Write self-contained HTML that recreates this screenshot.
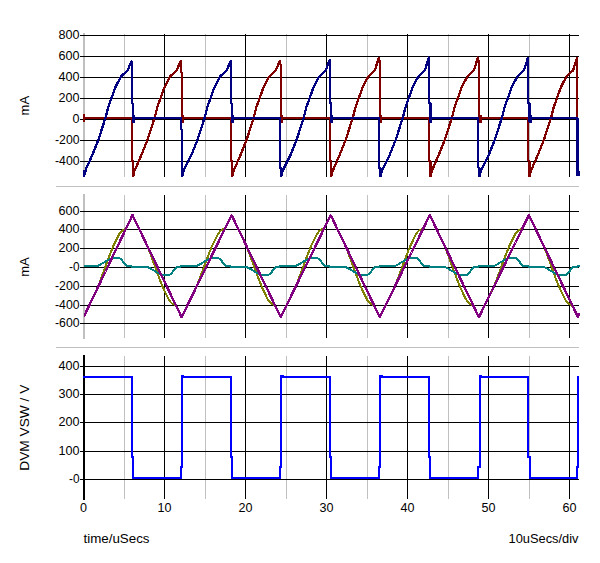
<!DOCTYPE html>
<html><head><meta charset="utf-8"><title>plot</title>
<style>
html,body{margin:0;padding:0;background:#fff;}
svg{display:block;}
text{font-family:"Liberation Sans",Arial,sans-serif;font-size:12px;fill:#000;}
polyline{shape-rendering:crispEdges;}
rect{shape-rendering:crispEdges;}
</style></head><body>
<svg width="600" height="563" viewBox="0 0 600 563">
<rect x="0" y="0" width="600" height="563" fill="#fff"/>
<rect x="56" y="186" width="523" height="1" fill="#c0c0c0"/>
<rect x="56" y="347" width="523" height="1" fill="#c0c0c0"/>
<rect x="83" y="33" width="2" height="144" fill="#c0c0c0"/>
<rect x="124" y="34" width="1" height="143" fill="#c0c0c0"/>
<rect x="164" y="34" width="1" height="143" fill="#000"/>
<rect x="205" y="34" width="1" height="143" fill="#c0c0c0"/>
<rect x="245" y="34" width="1" height="143" fill="#000"/>
<rect x="286" y="34" width="1" height="143" fill="#c0c0c0"/>
<rect x="326" y="34" width="1" height="143" fill="#000"/>
<rect x="367" y="34" width="1" height="143" fill="#c0c0c0"/>
<rect x="407" y="34" width="1" height="143" fill="#000"/>
<rect x="448" y="34" width="1" height="143" fill="#c0c0c0"/>
<rect x="488" y="34" width="1" height="143" fill="#000"/>
<rect x="529" y="34" width="1" height="143" fill="#c0c0c0"/>
<rect x="569" y="34" width="1" height="143" fill="#000"/>
<rect x="80" y="35" width="498.5" height="1" fill="#000"/>
<rect x="80" y="56" width="498.5" height="1" fill="#000"/>
<rect x="80" y="77" width="498.5" height="1" fill="#000"/>
<rect x="80" y="98" width="498.5" height="1" fill="#000"/>
<rect x="80" y="119" width="498.5" height="1" fill="#000"/>
<rect x="80" y="140" width="498.5" height="1" fill="#000"/>
<rect x="80" y="161" width="498.5" height="1" fill="#000"/>
<polyline points="84.0,118.0 131.8,118.0 131.8,161.0 133.1,161.0 133.1,176.5 134.4,171.0 135.6,168.4 141.5,154.8 147.7,139.2 153.0,122.7 154.8,117.1 157.3,107.2 161.1,96.6 164.2,87.9 167.3,81.7 170.4,76.1 176.6,70.5 180.9,60.6 180.9,72.6 182.2,72.6 182.2,122.0 182.2,118.0 230.9,118.0 230.9,161.0 232.2,161.0 232.2,176.5 233.5,171.0 234.7,168.4 240.6,154.8 246.8,139.2 252.1,122.7 253.9,117.1 256.4,107.2 260.2,96.6 263.3,87.9 266.4,81.7 269.5,76.1 275.7,70.5 280.0,60.5 280.0,64.5 281.0,64.5 281.0,122.0 281.0,118.0 330.0,118.0 330.0,161.0 331.3,161.0 331.3,176.5 332.6,171.0 333.8,168.4 339.7,154.8 345.9,139.2 351.2,122.7 353.0,117.1 355.5,107.2 359.3,96.6 362.4,87.9 365.5,81.7 368.6,76.1 374.8,70.5 379.1,57.0 379.1,61.0 380.1,61.0 380.1,122.0 380.1,118.0 429.1,118.0 429.1,161.0 430.4,161.0 430.4,176.5 431.7,171.0 432.9,168.4 438.8,154.8 445.0,139.2 450.3,122.7 452.1,117.1 454.6,107.2 458.4,96.6 461.5,87.9 464.6,81.7 467.7,76.1 473.9,70.5 478.2,56.7 478.2,60.7 479.2,60.7 479.2,122.0 479.2,118.0 528.2,118.0 528.2,161.0 529.5,161.0 529.5,176.5 530.8,171.0 532.0,168.4 537.9,154.8 544.1,139.2 549.4,122.7 551.2,117.1 553.7,107.2 557.5,96.6 560.6,87.9 563.7,81.7 566.8,76.1 573.0,70.5 577.3,57.0 577.3,61.0 577.3,118.0" fill="none" stroke="#800000" stroke-width="2.3" stroke-linejoin="bevel"/>
<rect x="181.2" y="114.5" width="3" height="8" fill="#800000"/>
<rect x="280.3" y="114.5" width="3" height="8" fill="#800000"/>
<rect x="379.4" y="114.5" width="3" height="8" fill="#800000"/>
<rect x="478.5" y="114.5" width="3" height="8" fill="#800000"/>
<polyline points="84.0,170.0 84.0,176.5 86.2,168.4 92.4,154.8 98.6,139.2 103.9,122.7 105.7,117.1 108.2,107.2 112.0,96.6 115.1,87.9 118.2,81.7 121.3,76.1 127.5,70.5 131.8,60.6 131.8,103.4 133.1,103.4 133.1,122.0 133.1,118.0 180.9,118.0 180.9,129.4 182.2,129.4 182.2,176.5 183.5,171.0 184.7,168.4 191.5,154.8 197.7,139.2 203.0,122.7 204.8,117.1 207.3,107.2 211.1,96.6 214.2,87.9 217.3,81.7 220.4,76.1 226.6,70.5 230.9,60.3 230.9,103.4 232.2,103.4 232.2,122.0 232.2,118.0 280.0,118.0 280.0,168.0 281.3,168.0 281.3,176.5 282.6,171.0 283.8,168.4 290.6,154.8 296.8,139.2 302.1,122.7 303.9,117.1 306.4,107.2 310.2,96.6 313.3,87.9 316.4,81.7 319.5,76.1 325.7,70.5 330.0,59.2 330.0,103.4 331.3,103.4 331.3,122.0 331.3,118.0 379.1,118.0 379.1,168.0 380.4,168.0 380.4,176.5 381.7,171.0 382.9,168.4 389.7,154.8 395.9,139.2 401.2,122.7 403.0,117.1 405.5,107.2 409.3,96.6 412.4,87.9 415.5,81.7 418.6,76.1 424.8,70.5 429.1,56.7 429.1,103.4 430.4,103.4 430.4,122.0 430.4,118.0 478.2,118.0 478.2,168.0 479.5,168.0 479.5,176.5 480.8,171.0 482.0,168.4 488.8,154.8 495.0,139.2 500.3,122.7 502.1,117.1 504.6,107.2 508.4,96.6 511.5,87.9 514.6,81.7 517.7,76.1 523.9,70.5 528.2,56.9 528.2,103.4 529.5,103.4 529.5,122.0 529.5,118.0 577.4,118.0 577.6,118.0 577.6,175.6" fill="none" stroke="#000080" stroke-width="2.3" stroke-linejoin="bevel"/>
<rect x="579" y="171" width="1" height="5" fill="#000080"/>
<rect x="132.1" y="114.5" width="3" height="8" fill="#000080"/>
<rect x="231.2" y="114.5" width="3" height="8" fill="#000080"/>
<rect x="330.3" y="114.5" width="3" height="8" fill="#000080"/>
<rect x="429.4" y="114.5" width="3" height="8" fill="#000080"/>
<rect x="528.5" y="114.5" width="3" height="8" fill="#000080"/>
<rect x="83" y="114" width="2" height="8" fill="#800000"/>
<rect x="83" y="194" width="2" height="145" fill="#c0c0c0"/>
<rect x="124" y="195" width="1" height="143" fill="#c0c0c0"/>
<rect x="164" y="195" width="1" height="143" fill="#000"/>
<rect x="205" y="195" width="1" height="143" fill="#c0c0c0"/>
<rect x="245" y="195" width="1" height="143" fill="#000"/>
<rect x="286" y="195" width="1" height="143" fill="#c0c0c0"/>
<rect x="326" y="195" width="1" height="143" fill="#000"/>
<rect x="367" y="195" width="1" height="143" fill="#c0c0c0"/>
<rect x="407" y="195" width="1" height="143" fill="#000"/>
<rect x="448" y="195" width="1" height="143" fill="#c0c0c0"/>
<rect x="488" y="195" width="1" height="143" fill="#000"/>
<rect x="529" y="195" width="1" height="143" fill="#c0c0c0"/>
<rect x="569" y="195" width="1" height="143" fill="#000"/>
<rect x="80" y="211" width="498.5" height="1" fill="#000"/>
<rect x="80" y="229" width="498.5" height="1" fill="#000"/>
<rect x="80" y="248" width="498.5" height="1" fill="#000"/>
<rect x="80" y="267" width="498.5" height="1" fill="#000"/>
<rect x="80" y="286" width="498.5" height="1" fill="#000"/>
<rect x="80" y="305" width="498.5" height="1" fill="#000"/>
<rect x="80" y="323" width="498.5" height="1" fill="#000"/>
<polyline points="84.0,315.5 84.5,315.3 85.0,314.2 85.5,313.2 86.0,312.2 86.5,311.1 87.0,310.1 87.5,309.0 88.0,308.0 88.5,306.9 89.0,305.9 89.5,304.9 90.0,303.8 90.5,302.8 91.0,301.7 91.5,300.7 92.0,299.6 92.5,298.6 93.0,297.5 93.5,296.5 94.0,295.5 94.5,294.4 95.0,293.4 95.5,292.3 96.0,291.3 96.5,290.2 97.0,289.1 97.5,287.9 98.0,286.7 98.5,285.5 99.0,284.2 99.5,282.9 100.0,281.6 100.5,280.2 101.0,278.9 101.5,277.5 102.0,276.1 102.5,274.7 103.0,273.4 103.5,272.0 104.0,270.6 104.5,269.2 105.0,267.9 105.5,266.5 106.0,265.1 106.5,263.7 107.0,262.4 107.5,261.0 108.0,259.6 108.5,258.3 109.0,257.0 109.5,255.6 110.0,254.3 110.5,253.0 111.0,251.7 111.5,250.5 112.0,249.2 112.5,248.0 113.0,246.8 113.5,245.7 114.0,244.6 114.5,243.5 115.0,242.5 115.5,241.5 116.0,240.4 116.5,239.4 117.0,238.3 117.5,237.3 118.0,236.3 118.5,235.3 119.0,234.5 119.5,233.7 120.0,233.0 120.5,232.3 121.0,231.7 121.5,231.2 122.0,230.8 122.5,230.4 123.0,230.1 123.5,229.9 124.0,229.6 124.5,229.4 125.0,229.0 125.5,228.5 126.0,227.9 126.5,227.2 127.0,226.4 127.5,225.5 128.0,224.5 128.5,223.4 129.0,222.4 129.5,221.4 130.0,220.3 130.5,219.3 131.0,218.2 131.5,217.2 132.0,216.1 132.5,215.1 133.0,216.1 133.5,217.2 134.0,218.2 134.5,219.3 135.0,220.3 135.5,221.3 136.0,222.4 136.5,223.4 137.0,224.5 137.5,225.5 138.0,226.5 138.5,227.6 139.0,228.6 139.5,229.7 140.0,230.7 140.5,231.7 141.0,232.8 141.5,233.8 142.0,234.9 142.5,235.9 143.0,236.9 143.5,238.0 144.0,239.0 144.5,240.1 145.0,241.1 145.5,242.1 146.0,243.2 146.5,244.3 147.0,245.4 147.5,246.5 148.0,247.7 148.5,249.0 149.0,250.2 149.5,251.5 150.0,252.9 150.5,254.2 151.0,255.6 151.5,256.9 152.0,258.3 152.5,259.7 153.0,261.0 153.5,262.4 154.0,263.8 154.5,265.2 155.0,266.5 155.5,267.9 156.0,269.3 156.5,270.6 157.0,272.0 157.5,273.4 158.0,274.7 158.5,276.1 159.0,277.4 159.5,278.7 160.0,280.0 160.5,281.3 161.0,282.6 161.5,283.9 162.0,285.1 162.5,286.3 163.0,287.5 163.5,288.6 164.0,289.7 164.5,290.8 165.0,291.8 165.5,292.9 166.0,293.9 166.5,294.9 167.0,296.0 167.5,297.0 168.0,298.0 168.5,298.9 169.0,299.8 169.5,300.6 170.0,301.3 170.5,302.0 171.0,302.5 171.5,303.0 172.0,303.5 172.5,303.8 173.0,304.1 173.5,304.4 174.0,304.6 174.5,304.9 175.0,305.2 175.5,305.7 176.0,306.3 176.5,307.0 177.0,307.8 177.5,308.8 178.0,309.7 178.5,310.8 179.0,311.8 179.5,312.8 180.0,313.9 180.5,314.9 181.0,316.0 181.5,317.0 182.0,316.4 182.5,315.4 183.0,314.3 183.5,313.3 184.0,312.3 184.5,311.3 185.0,310.3 185.5,309.2 186.0,308.2 186.5,307.2 187.0,306.2 187.5,305.2 188.0,304.1 188.5,303.1 189.0,302.1 189.5,301.1 190.0,300.0 190.5,299.0 191.0,298.0 191.5,297.0 192.0,296.0 192.5,294.9 193.0,293.9 193.5,292.9 194.0,291.9 194.5,290.9 195.0,289.8 195.5,288.8 196.0,287.7 196.5,286.6 197.0,285.4 197.5,284.2 198.0,282.9 198.5,281.6 199.0,280.3 199.5,279.0 200.0,277.7 200.5,276.4 201.0,275.0 201.5,273.7 202.0,272.3 202.5,270.9 203.0,269.6 203.5,268.2 204.0,266.9 204.5,265.5 205.0,264.2 205.5,262.8 206.0,261.5 206.5,260.1 207.0,258.8 207.5,257.5 208.0,256.2 208.5,254.9 209.0,253.6 209.5,252.3 210.0,251.0 210.5,249.8 211.0,248.5 211.5,247.3 212.0,246.2 212.5,245.1 213.0,244.0 213.5,242.9 214.0,241.9 214.5,240.9 215.0,239.9 215.5,238.8 216.0,237.8 216.5,236.8 217.0,235.8 217.5,234.9 218.0,234.0 218.5,233.2 219.0,232.5 219.5,231.9 220.0,231.3 220.5,230.8 221.0,230.4 221.5,230.0 222.0,229.7 222.5,229.5 223.0,229.3 223.5,229.0 224.0,228.7 224.5,228.3 225.0,227.8 225.5,227.1 226.0,226.3 226.5,225.4 227.0,224.5 227.5,223.5 228.0,222.5 228.5,221.4 229.0,220.4 229.5,219.4 230.0,218.4 230.5,217.3 231.0,216.3 231.5,215.3 232.0,215.9 232.5,217.0 233.0,218.0 233.5,219.1 234.0,220.1 234.5,221.1 235.0,222.2 235.5,223.2 236.0,224.2 236.5,225.3 237.0,226.3 237.5,227.4 238.0,228.4 238.5,229.4 239.0,230.5 239.5,231.5 240.0,232.6 240.5,233.6 241.0,234.6 241.5,235.7 242.0,236.7 242.5,237.8 243.0,238.8 243.5,239.8 244.0,240.9 244.5,241.9 245.0,243.0 245.5,244.0 246.0,245.2 246.5,246.3 247.0,247.5 247.5,248.7 248.0,250.0 248.5,251.3 249.0,252.6 249.5,253.9 250.0,255.3 250.5,256.7 251.0,258.0 251.5,259.4 252.0,260.8 252.5,262.1 253.0,263.5 253.5,264.9 254.0,266.3 254.5,267.6 255.0,269.0 255.5,270.4 256.0,271.7 256.5,273.1 257.0,274.4 257.5,275.8 258.0,277.1 258.5,278.5 259.0,279.8 259.5,281.1 260.0,282.4 260.5,283.6 261.0,284.9 261.5,286.1 262.0,287.3 262.5,288.4 263.0,289.5 263.5,290.6 264.0,291.6 264.5,292.6 265.0,293.7 265.5,294.7 266.0,295.8 266.5,296.8 267.0,297.8 267.5,298.8 268.0,299.6 268.5,300.4 269.0,301.2 269.5,301.8 270.0,302.4 270.5,302.9 271.0,303.4 271.5,303.8 272.0,304.1 272.5,304.3 273.0,304.6 273.5,304.8 274.0,305.2 274.5,305.6 275.0,306.2 275.5,306.8 276.0,307.7 276.5,308.6 277.0,309.5 277.5,310.5 278.0,311.6 278.5,312.6 279.0,313.7 279.5,314.7 280.0,315.7 280.5,316.8 281.0,316.6 281.5,315.6 282.0,314.5 282.5,313.5 283.0,312.5 283.5,311.5 284.0,310.5 284.5,309.4 285.0,308.4 285.5,307.4 286.0,306.4 286.5,305.4 287.0,304.3 287.5,303.3 288.0,302.3 288.5,301.3 289.0,300.3 289.5,299.2 290.0,298.2 290.5,297.2 291.0,296.2 291.5,295.1 292.0,294.1 292.5,293.1 293.0,292.1 293.5,291.1 294.0,290.0 294.5,289.0 295.0,287.9 295.5,286.8 296.0,285.6 296.5,284.4 297.0,283.2 297.5,281.9 298.0,280.6 298.5,279.3 299.0,278.0 299.5,276.6 300.0,275.3 300.5,273.9 301.0,272.6 301.5,271.2 302.0,269.9 302.5,268.5 303.0,267.2 303.5,265.8 304.0,264.5 304.5,263.1 305.0,261.8 305.5,260.4 306.0,259.1 306.5,257.7 307.0,256.4 307.5,255.1 308.0,253.8 308.5,252.5 309.0,251.3 309.5,250.0 310.0,248.8 310.5,247.6 311.0,246.4 311.5,245.3 312.0,244.2 312.5,243.1 313.0,242.1 313.5,241.1 314.0,240.1 314.5,239.1 315.0,238.0 315.5,237.0 316.0,236.0 316.5,235.1 317.0,234.2 317.5,233.4 318.0,232.7 318.5,232.0 319.0,231.4 319.5,230.9 320.0,230.5 320.5,230.1 321.0,229.8 321.5,229.6 322.0,229.3 322.5,229.1 323.0,228.8 323.5,228.4 324.0,227.9 324.5,227.2 325.0,226.5 325.5,225.6 326.0,224.7 326.5,223.7 327.0,222.7 327.5,221.6 328.0,220.6 328.5,219.6 329.0,218.6 329.5,217.6 330.0,216.5 330.5,215.5 331.0,215.7 331.5,216.8 332.0,217.8 332.5,218.8 333.0,219.9 333.5,220.9 334.0,222.0 334.5,223.0 335.0,224.0 335.5,225.1 336.0,226.1 336.5,227.2 337.0,228.2 337.5,229.2 338.0,230.3 338.5,231.3 339.0,232.4 339.5,233.4 340.0,234.4 340.5,235.5 341.0,236.5 341.5,237.6 342.0,238.6 342.5,239.6 343.0,240.7 343.5,241.7 344.0,242.8 344.5,243.8 345.0,244.9 345.5,246.1 346.0,247.2 346.5,248.5 347.0,249.7 347.5,251.0 348.0,252.3 348.5,253.7 349.0,255.0 349.5,256.4 350.0,257.7 350.5,259.1 351.0,260.5 351.5,261.9 352.0,263.2 352.5,264.6 353.0,266.0 353.5,267.3 354.0,268.7 354.5,270.1 355.0,271.5 355.5,272.8 356.0,274.2 356.5,275.5 357.0,276.9 357.5,278.2 358.0,279.5 358.5,280.8 359.0,282.1 359.5,283.4 360.0,284.6 360.5,285.8 361.0,287.0 361.5,288.2 362.0,289.3 362.5,290.4 363.0,291.4 363.5,292.4 364.0,293.5 364.5,294.5 365.0,295.6 365.5,296.6 366.0,297.6 366.5,298.6 367.0,299.5 367.5,300.3 368.0,301.0 368.5,301.7 369.0,302.3 369.5,302.8 370.0,303.3 370.5,303.7 371.0,304.0 371.5,304.3 372.0,304.5 372.5,304.8 373.0,305.1 373.5,305.5 374.0,306.0 374.5,306.7 375.0,307.5 375.5,308.4 376.0,309.3 376.5,310.3 377.0,311.4 377.5,312.4 378.0,313.5 378.5,314.5 379.0,315.5 379.5,316.6 380.0,316.8 380.5,315.8 381.0,314.7 381.5,313.7 382.0,312.7 382.5,311.7 383.0,310.7 383.5,309.6 384.0,308.6 384.5,307.6 385.0,306.6 385.5,305.6 386.0,304.5 386.5,303.5 387.0,302.5 387.5,301.5 388.0,300.5 388.5,299.4 389.0,298.4 389.5,297.4 390.0,296.4 390.5,295.4 391.0,294.3 391.5,293.3 392.0,292.3 392.5,291.3 393.0,290.2 393.5,289.2 394.0,288.1 394.5,287.0 395.0,285.9 395.5,284.7 396.0,283.4 396.5,282.2 397.0,280.9 397.5,279.6 398.0,278.2 398.5,276.9 399.0,275.5 399.5,274.2 400.0,272.8 400.5,271.5 401.0,270.1 401.5,268.8 402.0,267.4 402.5,266.1 403.0,264.7 403.5,263.4 404.0,262.0 404.5,260.7 405.0,259.3 405.5,258.0 406.0,256.7 406.5,255.4 407.0,254.1 407.5,252.8 408.0,251.5 408.5,250.3 409.0,249.0 409.5,247.8 410.0,246.6 410.5,245.5 411.0,244.4 411.5,243.3 412.0,242.3 412.5,241.3 413.0,240.3 413.5,239.3 414.0,238.2 414.5,237.2 415.0,236.2 415.5,235.2 416.0,234.4 416.5,233.5 417.0,232.8 417.5,232.1 418.0,231.5 418.5,231.0 419.0,230.6 419.5,230.2 420.0,229.9 420.5,229.6 421.0,229.4 421.5,229.1 422.0,228.9 422.5,228.5 423.0,228.0 423.5,227.4 424.0,226.6 424.5,225.8 425.0,224.9 425.5,223.9 426.0,222.9 426.5,221.8 427.0,220.8 427.5,219.8 428.0,218.8 428.5,217.8 429.0,216.7 429.5,215.7 430.0,215.5 430.5,216.6 431.0,217.6 431.5,218.6 432.0,219.7 432.5,220.7 433.0,221.8 433.5,222.8 434.0,223.8 434.5,224.9 435.0,225.9 435.5,227.0 436.0,228.0 436.5,229.0 437.0,230.1 437.5,231.1 438.0,232.2 438.5,233.2 439.0,234.2 439.5,235.3 440.0,236.3 440.5,237.3 441.0,238.4 441.5,239.4 442.0,240.5 442.5,241.5 443.0,242.5 443.5,243.6 444.0,244.7 444.5,245.8 445.0,247.0 445.5,248.2 446.0,249.5 446.5,250.8 447.0,252.1 447.5,253.4 448.0,254.8 448.5,256.1 449.0,257.5 449.5,258.8 450.0,260.2 450.5,261.6 451.0,263.0 451.5,264.3 452.0,265.7 452.5,267.1 453.0,268.4 453.5,269.8 454.0,271.2 454.5,272.5 455.0,273.9 455.5,275.3 456.0,276.6 456.5,277.9 457.0,279.2 457.5,280.5 458.0,281.8 458.5,283.1 459.0,284.4 459.5,285.6 460.0,286.8 460.5,287.9 461.0,289.1 461.5,290.1 462.0,291.2 462.5,292.2 463.0,293.3 463.5,294.3 464.0,295.3 464.5,296.4 465.0,297.4 465.5,298.4 466.0,299.3 466.5,300.1 467.0,300.9 467.5,301.6 468.0,302.2 468.5,302.7 469.0,303.2 469.5,303.6 470.0,303.9 470.5,304.2 471.0,304.5 471.5,304.7 472.0,305.0 472.5,305.4 473.0,305.9 473.5,306.6 474.0,307.3 474.5,308.2 475.0,309.1 475.5,310.1 476.0,311.2 476.5,312.2 477.0,313.2 477.5,314.3 478.0,315.3 478.5,316.4 479.0,317.0 479.5,316.0 480.0,315.0 480.5,313.9 481.0,312.9 481.5,311.9 482.0,310.9 482.5,309.8 483.0,308.8 483.5,307.8 484.0,306.8 484.5,305.8 485.0,304.7 485.5,303.7 486.0,302.7 486.5,301.7 487.0,300.7 487.5,299.6 488.0,298.6 488.5,297.6 489.0,296.6 489.5,295.6 490.0,294.5 490.5,293.5 491.0,292.5 491.5,291.5 492.0,290.4 492.5,289.4 493.0,288.3 493.5,287.2 494.0,286.1 494.5,284.9 495.0,283.7 495.5,282.4 496.0,281.1 496.5,279.8 497.0,278.5 497.5,277.2 498.0,275.8 498.5,274.5 499.0,273.1 499.5,271.8 500.0,270.4 500.5,269.1 501.0,267.7 501.5,266.3 502.0,265.0 502.5,263.6 503.0,262.3 503.5,260.9 504.0,259.6 504.5,258.3 505.0,256.9 505.5,255.6 506.0,254.3 506.5,253.0 507.0,251.8 507.5,250.5 508.0,249.3 508.5,248.0 509.0,246.9 509.5,245.7 510.0,244.6 510.5,243.6 511.0,242.5 511.5,241.5 512.0,240.5 512.5,239.5 513.0,238.4 513.5,237.4 514.0,236.4 514.5,235.4 515.0,234.5 515.5,233.7 516.0,232.9 516.5,232.3 517.0,231.6 517.5,231.1 518.0,230.6 518.5,230.3 519.0,229.9 519.5,229.7 520.0,229.4 520.5,229.2 521.0,228.9 521.5,228.6 522.0,228.1 522.5,227.5 523.0,226.8 523.5,226.0 524.0,225.0 524.5,224.1 525.0,223.1 525.5,222.0 526.0,221.0 526.5,220.0 527.0,219.0 527.5,218.0 528.0,216.9 528.5,215.9 529.0,215.3 529.5,216.3 530.0,217.4 530.5,218.4 531.0,219.5 531.5,220.5 532.0,221.5 532.5,222.6 533.0,223.6 533.5,224.7 534.0,225.7 534.5,226.7 535.0,227.8 535.5,228.8 536.0,229.9 536.5,230.9 537.0,231.9 537.5,233.0 538.0,234.0 538.5,235.1 539.0,236.1 539.5,237.1 540.0,238.2 540.5,239.2 541.0,240.3 541.5,241.3 542.0,242.3 542.5,243.4 543.0,244.5 543.5,245.6 544.0,246.8 544.5,248.0 545.0,249.2 545.5,250.5 546.0,251.8 546.5,253.1 547.0,254.5 547.5,255.8 548.0,257.2 548.5,258.6 549.0,259.9 549.5,261.3 550.0,262.7 550.5,264.1 551.0,265.4 551.5,266.8 552.0,268.2 552.5,269.5 553.0,270.9 553.5,272.3 554.0,273.6 554.5,275.0 555.0,276.3 555.5,277.7 556.0,279.0 556.5,280.3 557.0,281.6 557.5,282.9 558.0,284.1 558.5,285.4 559.0,286.6 559.5,287.7 560.0,288.8 560.5,289.9 561.0,291.0 561.5,292.0 562.0,293.1 562.5,294.1 563.0,295.1 563.5,296.2 564.0,297.2 564.5,298.2 565.0,299.1 565.5,300.0 566.0,300.7 566.5,301.5 567.0,302.1 567.5,302.6 568.0,303.1 568.5,303.5 569.0,303.9 569.5,304.2 570.0,304.4 570.5,304.7 571.0,304.9 571.5,305.3 572.0,305.8 572.5,306.4 573.0,307.2 573.5,308.0 574.0,308.9 574.5,309.9 575.0,311.0 575.5,312.0 576.0,313.0 576.5,314.1 577.0,315.1 577.5,316.2 578.0,317.2 578.5,316.2" fill="none" stroke="#808000" stroke-width="2" stroke-linejoin="bevel"/>
<polyline points="84.0,266.0 84.5,266.0 85.0,266.0 85.5,266.0 86.0,266.0 86.5,266.0 87.0,266.0 87.5,266.0 88.0,266.0 88.5,266.0 89.0,266.0 89.5,266.0 90.0,266.0 90.5,266.0 91.0,266.0 91.5,266.0 92.0,266.0 92.5,266.0 93.0,266.0 93.5,266.0 94.0,266.0 94.5,266.0 95.0,266.0 95.5,266.0 96.0,266.0 96.5,266.0 97.0,265.9 97.5,265.8 98.0,265.6 98.5,265.5 99.0,265.3 99.5,265.0 100.0,264.7 100.5,264.5 101.0,264.2 101.5,263.9 102.0,263.6 102.5,263.3 103.0,263.0 103.5,262.7 104.0,262.4 104.5,262.1 105.0,261.8 105.5,261.5 106.0,261.2 106.5,260.9 107.0,260.6 107.5,260.3 108.0,260.0 108.5,259.7 109.0,259.5 109.5,259.2 110.0,259.0 110.5,258.7 111.0,258.5 111.5,258.3 112.0,258.1 112.5,258.0 113.0,257.9 113.5,257.8 114.0,257.7 114.5,257.7 115.0,257.7 115.5,257.7 116.0,257.7 116.5,257.7 117.0,257.7 117.5,257.7 118.0,257.7 118.5,257.8 119.0,258.0 119.5,258.2 120.0,258.5 120.5,258.9 121.0,259.3 121.5,259.8 122.0,260.4 122.5,261.0 123.0,261.6 123.5,262.4 124.0,263.1 124.5,263.8 125.0,264.4 125.5,264.9 126.0,265.3 126.5,265.6 127.0,265.8 127.5,265.9 128.0,266.0 128.5,266.0 129.0,266.0 129.5,266.0 130.0,266.0 130.5,266.0 131.0,266.0 131.5,266.0 132.0,267.0 132.5,267.0 133.0,267.0 133.5,267.0 134.0,267.0 134.5,267.0 135.0,267.0 135.5,267.0 136.0,267.0 136.5,267.0 137.0,267.0 137.5,267.0 138.0,267.0 138.5,267.0 139.0,267.0 139.5,267.0 140.0,267.0 140.5,267.0 141.0,267.0 141.5,267.0 142.0,267.0 142.5,267.0 143.0,267.0 143.5,267.0 144.0,267.0 144.5,267.0 145.0,267.0 145.5,267.0 146.0,267.0 146.5,267.0 147.0,267.1 147.5,267.2 148.0,267.4 148.5,267.5 149.0,267.7 149.5,268.0 150.0,268.3 150.5,268.5 151.0,268.8 151.5,269.1 152.0,269.4 152.5,269.7 153.0,270.0 153.5,270.3 154.0,270.6 154.5,270.9 155.0,271.2 155.5,271.5 156.0,271.8 156.5,272.1 157.0,272.4 157.5,272.7 158.0,273.0 158.5,273.3 159.0,273.5 159.5,273.8 160.0,274.0 160.5,274.3 161.0,274.5 161.5,274.7 162.0,274.9 162.5,275.0 163.0,275.1 163.5,275.2 164.0,275.3 164.5,275.3 165.0,275.3 165.5,275.3 166.0,275.3 166.5,275.3 167.0,275.3 167.5,275.3 168.0,275.3 168.5,275.2 169.0,275.0 169.5,274.8 170.0,274.5 170.5,274.1 171.0,273.7 171.5,273.2 172.0,272.6 172.5,272.0 173.0,271.4 173.5,270.6 174.0,269.9 174.5,269.2 175.0,268.6 175.5,268.1 176.0,267.7 176.5,267.4 177.0,267.2 177.5,267.1 178.0,267.0 178.5,267.0 179.0,267.0 179.5,267.0 180.0,267.0 180.5,267.0 181.0,266.0 181.5,266.0 182.0,266.0 182.5,266.0 183.0,266.0 183.5,266.0 184.0,266.0 184.5,266.0 185.0,266.0 185.5,266.0 186.0,266.0 186.5,266.0 187.0,266.0 187.5,266.0 188.0,266.0 188.5,266.0 189.0,266.0 189.5,266.0 190.0,266.0 190.5,266.0 191.0,266.0 191.5,266.0 192.0,266.0 192.5,266.0 193.0,266.0 193.5,266.0 194.0,266.0 194.5,266.0 195.0,266.0 195.5,266.0 196.0,265.9 196.5,265.8 197.0,265.7 197.5,265.5 198.0,265.3 198.5,265.1 199.0,264.8 199.5,264.5 200.0,264.2 200.5,264.0 201.0,263.7 201.5,263.4 202.0,263.0 202.5,262.7 203.0,262.4 203.5,262.1 204.0,261.8 204.5,261.5 205.0,261.2 205.5,260.9 206.0,260.6 206.5,260.4 207.0,260.1 207.5,259.8 208.0,259.5 208.5,259.3 209.0,259.0 209.5,258.8 210.0,258.6 210.5,258.3 211.0,258.1 211.5,258.0 212.0,257.9 212.5,257.8 213.0,257.7 213.5,257.7 214.0,257.7 214.5,257.7 215.0,257.7 215.5,257.7 216.0,257.7 216.5,257.7 217.0,257.7 217.5,257.8 218.0,258.0 218.5,258.2 219.0,258.4 219.5,258.8 220.0,259.2 220.5,259.7 221.0,260.2 221.5,260.8 222.0,261.5 222.5,262.2 223.0,262.9 223.5,263.6 224.0,264.3 224.5,264.8 225.0,265.3 225.5,265.6 226.0,265.8 226.5,265.9 227.0,266.0 227.5,266.0 228.0,266.0 228.5,266.0 229.0,266.0 229.5,266.0 230.0,266.0 230.5,266.0 231.0,267.0 231.5,267.0 232.0,267.0 232.5,267.0 233.0,267.0 233.5,267.0 234.0,267.0 234.5,267.0 235.0,267.0 235.5,267.0 236.0,267.0 236.5,267.0 237.0,267.0 237.5,267.0 238.0,267.0 238.5,267.0 239.0,267.0 239.5,267.0 240.0,267.0 240.5,267.0 241.0,267.0 241.5,267.0 242.0,267.0 242.5,267.0 243.0,267.0 243.5,267.0 244.0,267.0 244.5,267.0 245.0,267.0 245.5,267.0 246.0,267.1 246.5,267.2 247.0,267.3 247.5,267.5 248.0,267.7 248.5,267.9 249.0,268.2 249.5,268.5 250.0,268.8 250.5,269.0 251.0,269.3 251.5,269.6 252.0,270.0 252.5,270.3 253.0,270.6 253.5,270.9 254.0,271.2 254.5,271.5 255.0,271.8 255.5,272.1 256.0,272.4 256.5,272.6 257.0,272.9 257.5,273.2 258.0,273.5 258.5,273.7 259.0,274.0 259.5,274.2 260.0,274.4 260.5,274.7 261.0,274.9 261.5,275.0 262.0,275.1 262.5,275.2 263.0,275.3 263.5,275.3 264.0,275.3 264.5,275.3 265.0,275.3 265.5,275.3 266.0,275.3 266.5,275.3 267.0,275.3 267.5,275.2 268.0,275.0 268.5,274.8 269.0,274.6 269.5,274.2 270.0,273.8 270.5,273.3 271.0,272.8 271.5,272.2 272.0,271.5 272.5,270.8 273.0,270.1 273.5,269.4 274.0,268.7 274.5,268.2 275.0,267.7 275.5,267.4 276.0,267.2 276.5,267.1 277.0,267.0 277.5,267.0 278.0,267.0 278.5,267.0 279.0,267.0 279.5,267.0 280.0,266.0 280.5,266.0 281.0,266.0 281.5,266.0 282.0,266.0 282.5,266.0 283.0,266.0 283.5,266.0 284.0,266.0 284.5,266.0 285.0,266.0 285.5,266.0 286.0,266.0 286.5,266.0 287.0,266.0 287.5,266.0 288.0,266.0 288.5,266.0 289.0,266.0 289.5,266.0 290.0,266.0 290.5,266.0 291.0,266.0 291.5,266.0 292.0,266.0 292.5,266.0 293.0,266.0 293.5,266.0 294.0,266.0 294.5,266.0 295.0,265.9 295.5,265.8 296.0,265.7 296.5,265.5 297.0,265.3 297.5,265.1 298.0,264.8 298.5,264.6 299.0,264.3 299.5,264.0 300.0,263.7 300.5,263.4 301.0,263.1 301.5,262.8 302.0,262.5 302.5,262.2 303.0,261.9 303.5,261.6 304.0,261.3 304.5,261.0 305.0,260.7 305.5,260.4 306.0,260.1 306.5,259.8 307.0,259.6 307.5,259.3 308.0,259.1 308.5,258.8 309.0,258.6 309.5,258.4 310.0,258.2 310.5,258.0 311.0,257.9 311.5,257.8 312.0,257.7 312.5,257.7 313.0,257.7 313.5,257.7 314.0,257.7 314.5,257.7 315.0,257.7 315.5,257.7 316.0,257.7 316.5,257.8 317.0,257.9 317.5,258.1 318.0,258.4 318.5,258.7 319.0,259.1 319.5,259.6 320.0,260.1 320.5,260.7 321.0,261.4 321.5,262.1 322.0,262.8 322.5,263.5 323.0,264.2 323.5,264.7 324.0,265.2 324.5,265.5 325.0,265.7 325.5,265.9 326.0,266.0 326.5,266.0 327.0,266.0 327.5,266.0 328.0,266.0 328.5,266.0 329.0,266.0 329.5,266.0 330.0,267.0 330.5,267.0 331.0,267.0 331.5,267.0 332.0,267.0 332.5,267.0 333.0,267.0 333.5,267.0 334.0,267.0 334.5,267.0 335.0,267.0 335.5,267.0 336.0,267.0 336.5,267.0 337.0,267.0 337.5,267.0 338.0,267.0 338.5,267.0 339.0,267.0 339.5,267.0 340.0,267.0 340.5,267.0 341.0,267.0 341.5,267.0 342.0,267.0 342.5,267.0 343.0,267.0 343.5,267.0 344.0,267.0 344.5,267.0 345.0,267.1 345.5,267.2 346.0,267.3 346.5,267.5 347.0,267.7 347.5,267.9 348.0,268.2 348.5,268.4 349.0,268.7 349.5,269.0 350.0,269.3 350.5,269.6 351.0,269.9 351.5,270.2 352.0,270.5 352.5,270.8 353.0,271.1 353.5,271.4 354.0,271.7 354.5,272.0 355.0,272.3 355.5,272.6 356.0,272.9 356.5,273.2 357.0,273.4 357.5,273.7 358.0,273.9 358.5,274.2 359.0,274.4 359.5,274.6 360.0,274.8 360.5,275.0 361.0,275.1 361.5,275.2 362.0,275.3 362.5,275.3 363.0,275.3 363.5,275.3 364.0,275.3 364.5,275.3 365.0,275.3 365.5,275.3 366.0,275.3 366.5,275.2 367.0,275.1 367.5,274.9 368.0,274.6 368.5,274.3 369.0,273.9 369.5,273.4 370.0,272.9 370.5,272.3 371.0,271.6 371.5,270.9 372.0,270.2 372.5,269.5 373.0,268.8 373.5,268.3 374.0,267.8 374.5,267.5 375.0,267.3 375.5,267.1 376.0,267.0 376.5,267.0 377.0,267.0 377.5,267.0 378.0,267.0 378.5,267.0 379.0,267.0 379.5,266.0 380.0,266.0 380.5,266.0 381.0,266.0 381.5,266.0 382.0,266.0 382.5,266.0 383.0,266.0 383.5,266.0 384.0,266.0 384.5,266.0 385.0,266.0 385.5,266.0 386.0,266.0 386.5,266.0 387.0,266.0 387.5,266.0 388.0,266.0 388.5,266.0 389.0,266.0 389.5,266.0 390.0,266.0 390.5,266.0 391.0,266.0 391.5,266.0 392.0,266.0 392.5,266.0 393.0,266.0 393.5,266.0 394.0,265.9 394.5,265.8 395.0,265.7 395.5,265.6 396.0,265.4 396.5,265.2 397.0,264.9 397.5,264.6 398.0,264.4 398.5,264.1 399.0,263.8 399.5,263.5 400.0,263.2 400.5,262.9 401.0,262.6 401.5,262.3 402.0,262.0 402.5,261.7 403.0,261.4 403.5,261.1 404.0,260.8 404.5,260.5 405.0,260.2 405.5,259.9 406.0,259.6 406.5,259.4 407.0,259.1 407.5,258.9 408.0,258.6 408.5,258.4 409.0,258.2 409.5,258.1 410.0,257.9 410.5,257.8 411.0,257.7 411.5,257.7 412.0,257.7 412.5,257.7 413.0,257.7 413.5,257.7 414.0,257.7 414.5,257.7 415.0,257.7 415.5,257.8 416.0,257.9 416.5,258.1 417.0,258.3 417.5,258.6 418.0,259.0 418.5,259.5 419.0,260.0 419.5,260.6 420.0,261.2 420.5,261.9 421.0,262.6 421.5,263.4 422.0,264.0 422.5,264.6 423.0,265.1 423.5,265.5 424.0,265.7 424.5,265.9 425.0,266.0 425.5,266.0 426.0,266.0 426.5,266.0 427.0,266.0 427.5,266.0 428.0,266.0 428.5,266.0 429.0,266.0 429.5,267.0 430.0,267.0 430.5,267.0 431.0,267.0 431.5,267.0 432.0,267.0 432.5,267.0 433.0,267.0 433.5,267.0 434.0,267.0 434.5,267.0 435.0,267.0 435.5,267.0 436.0,267.0 436.5,267.0 437.0,267.0 437.5,267.0 438.0,267.0 438.5,267.0 439.0,267.0 439.5,267.0 440.0,267.0 440.5,267.0 441.0,267.0 441.5,267.0 442.0,267.0 442.5,267.0 443.0,267.0 443.5,267.0 444.0,267.1 444.5,267.2 445.0,267.3 445.5,267.4 446.0,267.6 446.5,267.8 447.0,268.1 447.5,268.4 448.0,268.6 448.5,268.9 449.0,269.2 449.5,269.5 450.0,269.8 450.5,270.1 451.0,270.4 451.5,270.7 452.0,271.0 452.5,271.3 453.0,271.6 453.5,271.9 454.0,272.2 454.5,272.5 455.0,272.8 455.5,273.1 456.0,273.4 456.5,273.6 457.0,273.9 457.5,274.1 458.0,274.4 458.5,274.6 459.0,274.8 459.5,274.9 460.0,275.1 460.5,275.2 461.0,275.3 461.5,275.3 462.0,275.3 462.5,275.3 463.0,275.3 463.5,275.3 464.0,275.3 464.5,275.3 465.0,275.3 465.5,275.2 466.0,275.1 466.5,274.9 467.0,274.7 467.5,274.4 468.0,274.0 468.5,273.5 469.0,273.0 469.5,272.4 470.0,271.8 470.5,271.1 471.0,270.4 471.5,269.6 472.0,269.0 472.5,268.4 473.0,267.9 473.5,267.5 474.0,267.3 474.5,267.1 475.0,267.0 475.5,267.0 476.0,267.0 476.5,267.0 477.0,267.0 477.5,267.0 478.0,267.0 478.5,266.0 479.0,266.0 479.5,266.0 480.0,266.0 480.5,266.0 481.0,266.0 481.5,266.0 482.0,266.0 482.5,266.0 483.0,266.0 483.5,266.0 484.0,266.0 484.5,266.0 485.0,266.0 485.5,266.0 486.0,266.0 486.5,266.0 487.0,266.0 487.5,266.0 488.0,266.0 488.5,266.0 489.0,266.0 489.5,266.0 490.0,266.0 490.5,266.0 491.0,266.0 491.5,266.0 492.0,266.0 492.5,266.0 493.0,265.9 493.5,265.9 494.0,265.7 494.5,265.6 495.0,265.4 495.5,265.2 496.0,264.9 496.5,264.7 497.0,264.4 497.5,264.1 498.0,263.8 498.5,263.5 499.0,263.2 499.5,262.9 500.0,262.6 500.5,262.3 501.0,262.0 501.5,261.7 502.0,261.4 502.5,261.1 503.0,260.8 503.5,260.5 504.0,260.2 504.5,259.9 505.0,259.7 505.5,259.4 506.0,259.2 506.5,258.9 507.0,258.7 507.5,258.5 508.0,258.3 508.5,258.1 509.0,257.9 509.5,257.8 510.0,257.8 510.5,257.7 511.0,257.7 511.5,257.7 512.0,257.7 512.5,257.7 513.0,257.7 513.5,257.7 514.0,257.7 514.5,257.8 515.0,257.9 515.5,258.0 516.0,258.3 516.5,258.6 517.0,258.9 517.5,259.4 518.0,259.9 518.5,260.5 519.0,261.1 519.5,261.8 520.0,262.5 520.5,263.2 521.0,263.9 521.5,264.5 522.0,265.0 522.5,265.4 523.0,265.7 523.5,265.8 524.0,265.9 524.5,266.0 525.0,266.0 525.5,266.0 526.0,266.0 526.5,266.0 527.0,266.0 527.5,266.0 528.0,266.0 528.5,267.0 529.0,267.0 529.5,267.0 530.0,267.0 530.5,267.0 531.0,267.0 531.5,267.0 532.0,267.0 532.5,267.0 533.0,267.0 533.5,267.0 534.0,267.0 534.5,267.0 535.0,267.0 535.5,267.0 536.0,267.0 536.5,267.0 537.0,267.0 537.5,267.0 538.0,267.0 538.5,267.0 539.0,267.0 539.5,267.0 540.0,267.0 540.5,267.0 541.0,267.0 541.5,267.0 542.0,267.0 542.5,267.0 543.0,267.1 543.5,267.1 544.0,267.3 544.5,267.4 545.0,267.6 545.5,267.8 546.0,268.1 546.5,268.3 547.0,268.6 547.5,268.9 548.0,269.2 548.5,269.5 549.0,269.8 549.5,270.1 550.0,270.4 550.5,270.7 551.0,271.0 551.5,271.3 552.0,271.6 552.5,271.9 553.0,272.2 553.5,272.5 554.0,272.8 554.5,273.1 555.0,273.3 555.5,273.6 556.0,273.8 556.5,274.1 557.0,274.3 557.5,274.5 558.0,274.7 558.5,274.9 559.0,275.1 559.5,275.2 560.0,275.2 560.5,275.3 561.0,275.3 561.5,275.3 562.0,275.3 562.5,275.3 563.0,275.3 563.5,275.3 564.0,275.3 564.5,275.2 565.0,275.1 565.5,275.0 566.0,274.7 566.5,274.4 567.0,274.1 567.5,273.6 568.0,273.1 568.5,272.5 569.0,271.9 569.5,271.2 570.0,270.5 570.5,269.8 571.0,269.1 571.5,268.5 572.0,268.0 572.5,267.6 573.0,267.3 573.5,267.2 574.0,267.1 574.5,267.0 575.0,267.0 575.5,267.0 576.0,267.0 576.5,267.0 577.0,267.0 577.5,266.0 578.0,266.0 578.5,266.0 579.0,266.0 579.5,266.0" fill="none" stroke="#008080" stroke-width="2" stroke-linejoin="bevel"/>
<polyline points="84.0,315.5 84.5,315.3 85.0,314.2 85.5,313.2 86.0,312.2 86.5,311.1 87.0,310.1 87.5,309.0 88.0,308.0 88.5,306.9 89.0,305.9 89.5,304.9 90.0,303.8 90.5,302.8 91.0,301.7 91.5,300.7 92.0,299.6 92.5,298.6 93.0,297.5 93.5,296.5 94.0,295.5 94.5,294.4 95.0,293.4 95.5,292.3 96.0,291.3 96.5,290.2 97.0,289.2 97.5,288.2 98.0,287.1 98.5,286.1 99.0,285.0 99.5,284.0 100.0,282.9 100.5,281.9 101.0,280.9 101.5,279.8 102.0,278.8 102.5,277.7 103.0,276.7 103.5,275.6 104.0,274.6 104.5,273.5 105.0,272.5 105.5,271.5 106.0,270.4 106.5,269.4 107.0,268.3 107.5,267.3 108.0,266.2 108.5,265.2 109.0,264.2 109.5,263.1 110.0,262.1 110.5,261.0 111.0,260.0 111.5,258.9 112.0,257.9 112.5,256.8 113.0,255.8 113.5,254.8 114.0,253.7 114.5,252.7 115.0,251.6 115.5,250.6 116.0,249.5 116.5,248.5 117.0,247.5 117.5,246.4 118.0,245.4 118.5,244.3 119.0,243.3 119.5,242.2 120.0,241.2 120.5,240.1 121.0,239.1 121.5,238.1 122.0,237.0 122.5,236.0 123.0,234.9 123.5,233.9 124.0,232.8 124.5,231.8 125.0,230.8 125.5,229.7 126.0,228.7 126.5,227.6 127.0,226.6 127.5,225.5 128.0,224.5 128.5,223.4 129.0,222.4 129.5,221.4 130.0,220.3 130.5,219.3 131.0,218.2 131.5,217.2 132.0,216.1 132.5,215.1 133.0,216.1 133.5,217.2 134.0,218.2 134.5,219.3 135.0,220.3 135.5,221.3 136.0,222.4 136.5,223.4 137.0,224.5 137.5,225.5 138.0,226.5 138.5,227.6 139.0,228.6 139.5,229.7 140.0,230.7 140.5,231.7 141.0,232.8 141.5,233.8 142.0,234.9 142.5,235.9 143.0,236.9 143.5,238.0 144.0,239.0 144.5,240.1 145.0,241.1 145.5,242.1 146.0,243.2 146.5,244.2 147.0,245.3 147.5,246.3 148.0,247.3 148.5,248.4 149.0,249.4 149.5,250.5 150.0,251.5 150.5,252.5 151.0,253.6 151.5,254.6 152.0,255.6 152.5,256.7 153.0,257.7 153.5,258.8 154.0,259.8 154.5,260.8 155.0,261.9 155.5,262.9 156.0,264.0 156.5,265.0 157.0,266.0 157.5,267.1 158.0,268.1 158.5,269.2 159.0,270.2 159.5,271.2 160.0,272.3 160.5,273.3 161.0,274.4 161.5,275.4 162.0,276.4 162.5,277.5 163.0,278.5 163.5,279.6 164.0,280.6 164.5,281.6 165.0,282.7 165.5,283.7 166.0,284.8 166.5,285.8 167.0,286.8 167.5,287.9 168.0,288.9 168.5,290.0 169.0,291.0 169.5,292.0 170.0,293.1 170.5,294.1 171.0,295.2 171.5,296.2 172.0,297.2 172.5,298.3 173.0,299.3 173.5,300.4 174.0,301.4 174.5,302.4 175.0,303.5 175.5,304.5 176.0,305.6 176.5,306.6 177.0,307.6 177.5,308.7 178.0,309.7 178.5,310.8 179.0,311.8 179.5,312.8 180.0,313.9 180.5,314.9 181.0,316.0 181.5,317.0 182.0,316.4 182.5,315.4 183.0,314.3 183.5,313.3 184.0,312.3 184.5,311.3 185.0,310.3 185.5,309.2 186.0,308.2 186.5,307.2 187.0,306.2 187.5,305.2 188.0,304.1 188.5,303.1 189.0,302.1 189.5,301.1 190.0,300.0 190.5,299.0 191.0,298.0 191.5,297.0 192.0,296.0 192.5,294.9 193.0,293.9 193.5,292.9 194.0,291.9 194.5,290.9 195.0,289.8 195.5,288.8 196.0,287.8 196.5,286.8 197.0,285.8 197.5,284.7 198.0,283.7 198.5,282.7 199.0,281.7 199.5,280.6 200.0,279.6 200.5,278.6 201.0,277.6 201.5,276.6 202.0,275.5 202.5,274.5 203.0,273.5 203.5,272.5 204.0,271.5 204.5,270.4 205.0,269.4 205.5,268.4 206.0,267.4 206.5,266.4 207.0,265.3 207.5,264.3 208.0,263.3 208.5,262.3 209.0,261.2 209.5,260.2 210.0,259.2 210.5,258.2 211.0,257.2 211.5,256.1 212.0,255.1 212.5,254.1 213.0,253.1 213.5,252.1 214.0,251.0 214.5,250.0 215.0,249.0 215.5,248.0 216.0,247.0 216.5,245.9 217.0,244.9 217.5,243.9 218.0,242.9 218.5,241.9 219.0,240.8 219.5,239.8 220.0,238.8 220.5,237.8 221.0,236.7 221.5,235.7 222.0,234.7 222.5,233.7 223.0,232.7 223.5,231.6 224.0,230.6 224.5,229.6 225.0,228.6 225.5,227.6 226.0,226.5 226.5,225.5 227.0,224.5 227.5,223.5 228.0,222.5 228.5,221.4 229.0,220.4 229.5,219.4 230.0,218.4 230.5,217.3 231.0,216.3 231.5,215.3 232.0,215.9 232.5,217.0 233.0,218.0 233.5,219.1 234.0,220.1 234.5,221.1 235.0,222.2 235.5,223.2 236.0,224.2 236.5,225.3 237.0,226.3 237.5,227.4 238.0,228.4 238.5,229.4 239.0,230.5 239.5,231.5 240.0,232.6 240.5,233.6 241.0,234.6 241.5,235.7 242.0,236.7 242.5,237.8 243.0,238.8 243.5,239.8 244.0,240.9 244.5,241.9 245.0,243.0 245.5,244.0 246.0,245.0 246.5,246.1 247.0,247.1 247.5,248.2 248.0,249.2 248.5,250.2 249.0,251.3 249.5,252.3 250.0,253.4 250.5,254.4 251.0,255.4 251.5,256.5 252.0,257.5 252.5,258.6 253.0,259.6 253.5,260.6 254.0,261.7 254.5,262.7 255.0,263.8 255.5,264.8 256.0,265.8 256.5,266.9 257.0,267.9 257.5,269.0 258.0,270.0 258.5,271.0 259.0,272.1 259.5,273.1 260.0,274.2 260.5,275.2 261.0,276.2 261.5,277.3 262.0,278.3 262.5,279.4 263.0,280.4 263.5,281.4 264.0,282.5 264.5,283.5 265.0,284.6 265.5,285.6 266.0,286.6 266.5,287.7 267.0,288.7 267.5,289.8 268.0,290.8 268.5,291.8 269.0,292.9 269.5,293.9 270.0,295.0 270.5,296.0 271.0,297.0 271.5,298.1 272.0,299.1 272.5,300.1 273.0,301.2 273.5,302.2 274.0,303.3 274.5,304.3 275.0,305.3 275.5,306.4 276.0,307.4 276.5,308.5 277.0,309.5 277.5,310.5 278.0,311.6 278.5,312.6 279.0,313.7 279.5,314.7 280.0,315.7 280.5,316.8 281.0,316.6 281.5,315.6 282.0,314.5 282.5,313.5 283.0,312.5 283.5,311.5 284.0,310.5 284.5,309.4 285.0,308.4 285.5,307.4 286.0,306.4 286.5,305.4 287.0,304.3 287.5,303.3 288.0,302.3 288.5,301.3 289.0,300.3 289.5,299.2 290.0,298.2 290.5,297.2 291.0,296.2 291.5,295.1 292.0,294.1 292.5,293.1 293.0,292.1 293.5,291.1 294.0,290.0 294.5,289.0 295.0,288.0 295.5,287.0 296.0,286.0 296.5,284.9 297.0,283.9 297.5,282.9 298.0,281.9 298.5,280.9 299.0,279.8 299.5,278.8 300.0,277.8 300.5,276.8 301.0,275.7 301.5,274.7 302.0,273.7 302.5,272.7 303.0,271.7 303.5,270.6 304.0,269.6 304.5,268.6 305.0,267.6 305.5,266.6 306.0,265.5 306.5,264.5 307.0,263.5 307.5,262.5 308.0,261.5 308.5,260.4 309.0,259.4 309.5,258.4 310.0,257.4 310.5,256.3 311.0,255.3 311.5,254.3 312.0,253.3 312.5,252.3 313.0,251.2 313.5,250.2 314.0,249.2 314.5,248.2 315.0,247.2 315.5,246.1 316.0,245.1 316.5,244.1 317.0,243.1 317.5,242.1 318.0,241.0 318.5,240.0 319.0,239.0 319.5,238.0 320.0,236.9 320.5,235.9 321.0,234.9 321.5,233.9 322.0,232.9 322.5,231.8 323.0,230.8 323.5,229.8 324.0,228.8 324.5,227.8 325.0,226.7 325.5,225.7 326.0,224.7 326.5,223.7 327.0,222.7 327.5,221.6 328.0,220.6 328.5,219.6 329.0,218.6 329.5,217.6 330.0,216.5 330.5,215.5 331.0,215.7 331.5,216.8 332.0,217.8 332.5,218.8 333.0,219.9 333.5,220.9 334.0,222.0 334.5,223.0 335.0,224.0 335.5,225.1 336.0,226.1 336.5,227.2 337.0,228.2 337.5,229.2 338.0,230.3 338.5,231.3 339.0,232.4 339.5,233.4 340.0,234.4 340.5,235.5 341.0,236.5 341.5,237.6 342.0,238.6 342.5,239.6 343.0,240.7 343.5,241.7 344.0,242.8 344.5,243.8 345.0,244.8 345.5,245.9 346.0,246.9 346.5,248.0 347.0,249.0 347.5,250.0 348.0,251.1 348.5,252.1 349.0,253.2 349.5,254.2 350.0,255.2 350.5,256.3 351.0,257.3 351.5,258.4 352.0,259.4 352.5,260.4 353.0,261.5 353.5,262.5 354.0,263.6 354.5,264.6 355.0,265.6 355.5,266.7 356.0,267.7 356.5,268.7 357.0,269.8 357.5,270.8 358.0,271.9 358.5,272.9 359.0,273.9 359.5,275.0 360.0,276.0 360.5,277.1 361.0,278.1 361.5,279.1 362.0,280.2 362.5,281.2 363.0,282.3 363.5,283.3 364.0,284.3 364.5,285.4 365.0,286.4 365.5,287.5 366.0,288.5 366.5,289.5 367.0,290.6 367.5,291.6 368.0,292.7 368.5,293.7 369.0,294.7 369.5,295.8 370.0,296.8 370.5,297.9 371.0,298.9 371.5,299.9 372.0,301.0 372.5,302.0 373.0,303.1 373.5,304.1 374.0,305.1 374.5,306.2 375.0,307.2 375.5,308.3 376.0,309.3 376.5,310.3 377.0,311.4 377.5,312.4 378.0,313.5 378.5,314.5 379.0,315.5 379.5,316.6 380.0,316.8 380.5,315.8 381.0,314.7 381.5,313.7 382.0,312.7 382.5,311.7 383.0,310.7 383.5,309.6 384.0,308.6 384.5,307.6 385.0,306.6 385.5,305.6 386.0,304.5 386.5,303.5 387.0,302.5 387.5,301.5 388.0,300.5 388.5,299.4 389.0,298.4 389.5,297.4 390.0,296.4 390.5,295.4 391.0,294.3 391.5,293.3 392.0,292.3 392.5,291.3 393.0,290.2 393.5,289.2 394.0,288.2 394.5,287.2 395.0,286.2 395.5,285.1 396.0,284.1 396.5,283.1 397.0,282.1 397.5,281.1 398.0,280.0 398.5,279.0 399.0,278.0 399.5,277.0 400.0,276.0 400.5,274.9 401.0,273.9 401.5,272.9 402.0,271.9 402.5,270.8 403.0,269.8 403.5,268.8 404.0,267.8 404.5,266.8 405.0,265.7 405.5,264.7 406.0,263.7 406.5,262.7 407.0,261.7 407.5,260.6 408.0,259.6 408.5,258.6 409.0,257.6 409.5,256.6 410.0,255.5 410.5,254.5 411.0,253.5 411.5,252.5 412.0,251.4 412.5,250.4 413.0,249.4 413.5,248.4 414.0,247.4 414.5,246.3 415.0,245.3 415.5,244.3 416.0,243.3 416.5,242.3 417.0,241.2 417.5,240.2 418.0,239.2 418.5,238.2 419.0,237.2 419.5,236.1 420.0,235.1 420.5,234.1 421.0,233.1 421.5,232.0 422.0,231.0 422.5,230.0 423.0,229.0 423.5,228.0 424.0,226.9 424.5,225.9 425.0,224.9 425.5,223.9 426.0,222.9 426.5,221.8 427.0,220.8 427.5,219.8 428.0,218.8 428.5,217.8 429.0,216.7 429.5,215.7 430.0,215.5 430.5,216.6 431.0,217.6 431.5,218.6 432.0,219.7 432.5,220.7 433.0,221.8 433.5,222.8 434.0,223.8 434.5,224.9 435.0,225.9 435.5,227.0 436.0,228.0 436.5,229.0 437.0,230.1 437.5,231.1 438.0,232.2 438.5,233.2 439.0,234.2 439.5,235.3 440.0,236.3 440.5,237.3 441.0,238.4 441.5,239.4 442.0,240.5 442.5,241.5 443.0,242.5 443.5,243.6 444.0,244.6 444.5,245.7 445.0,246.7 445.5,247.7 446.0,248.8 446.5,249.8 447.0,250.9 447.5,251.9 448.0,252.9 448.5,254.0 449.0,255.0 449.5,256.1 450.0,257.1 450.5,258.1 451.0,259.2 451.5,260.2 452.0,261.3 452.5,262.3 453.0,263.3 453.5,264.4 454.0,265.4 454.5,266.5 455.0,267.5 455.5,268.5 456.0,269.6 456.5,270.6 457.0,271.7 457.5,272.7 458.0,273.7 458.5,274.8 459.0,275.8 459.5,276.9 460.0,277.9 460.5,278.9 461.0,280.0 461.5,281.0 462.0,282.1 462.5,283.1 463.0,284.1 463.5,285.2 464.0,286.2 464.5,287.3 465.0,288.3 465.5,289.3 466.0,290.4 466.5,291.4 467.0,292.5 467.5,293.5 468.0,294.5 468.5,295.6 469.0,296.6 469.5,297.7 470.0,298.7 470.5,299.7 471.0,300.8 471.5,301.8 472.0,302.9 472.5,303.9 473.0,304.9 473.5,306.0 474.0,307.0 474.5,308.1 475.0,309.1 475.5,310.1 476.0,311.2 476.5,312.2 477.0,313.2 477.5,314.3 478.0,315.3 478.5,316.4 479.0,317.0 479.5,316.0 480.0,315.0 480.5,313.9 481.0,312.9 481.5,311.9 482.0,310.9 482.5,309.8 483.0,308.8 483.5,307.8 484.0,306.8 484.5,305.8 485.0,304.7 485.5,303.7 486.0,302.7 486.5,301.7 487.0,300.7 487.5,299.6 488.0,298.6 488.5,297.6 489.0,296.6 489.5,295.6 490.0,294.5 490.5,293.5 491.0,292.5 491.5,291.5 492.0,290.4 492.5,289.4 493.0,288.4 493.5,287.4 494.0,286.4 494.5,285.3 495.0,284.3 495.5,283.3 496.0,282.3 496.5,281.3 497.0,280.2 497.5,279.2 498.0,278.2 498.5,277.2 499.0,276.2 499.5,275.1 500.0,274.1 500.5,273.1 501.0,272.1 501.5,271.1 502.0,270.0 502.5,269.0 503.0,268.0 503.5,267.0 504.0,265.9 504.5,264.9 505.0,263.9 505.5,262.9 506.0,261.9 506.5,260.8 507.0,259.8 507.5,258.8 508.0,257.8 508.5,256.8 509.0,255.7 509.5,254.7 510.0,253.7 510.5,252.7 511.0,251.7 511.5,250.6 512.0,249.6 512.5,248.6 513.0,247.6 513.5,246.5 514.0,245.5 514.5,244.5 515.0,243.5 515.5,242.5 516.0,241.4 516.5,240.4 517.0,239.4 517.5,238.4 518.0,237.4 518.5,236.3 519.0,235.3 519.5,234.3 520.0,233.3 520.5,232.3 521.0,231.2 521.5,230.2 522.0,229.2 522.5,228.2 523.0,227.1 523.5,226.1 524.0,225.1 524.5,224.1 525.0,223.1 525.5,222.0 526.0,221.0 526.5,220.0 527.0,219.0 527.5,218.0 528.0,216.9 528.5,215.9 529.0,215.3 529.5,216.3 530.0,217.4 530.5,218.4 531.0,219.5 531.5,220.5 532.0,221.5 532.5,222.6 533.0,223.6 533.5,224.7 534.0,225.7 534.5,226.7 535.0,227.8 535.5,228.8 536.0,229.9 536.5,230.9 537.0,231.9 537.5,233.0 538.0,234.0 538.5,235.1 539.0,236.1 539.5,237.1 540.0,238.2 540.5,239.2 541.0,240.3 541.5,241.3 542.0,242.3 542.5,243.4 543.0,244.4 543.5,245.5 544.0,246.5 544.5,247.5 545.0,248.6 545.5,249.6 546.0,250.7 546.5,251.7 547.0,252.7 547.5,253.8 548.0,254.8 548.5,255.9 549.0,256.9 549.5,257.9 550.0,259.0 550.5,260.0 551.0,261.1 551.5,262.1 552.0,263.1 552.5,264.2 553.0,265.2 553.5,266.3 554.0,267.3 554.5,268.3 555.0,269.4 555.5,270.4 556.0,271.5 556.5,272.5 557.0,273.5 557.5,274.6 558.0,275.6 558.5,276.7 559.0,277.7 559.5,278.7 560.0,279.8 560.5,280.8 561.0,281.8 561.5,282.9 562.0,283.9 562.5,285.0 563.0,286.0 563.5,287.0 564.0,288.1 564.5,289.1 565.0,290.2 565.5,291.2 566.0,292.2 566.5,293.3 567.0,294.3 567.5,295.4 568.0,296.4 568.5,297.4 569.0,298.5 569.5,299.5 570.0,300.6 570.5,301.6 571.0,302.6 571.5,303.7 572.0,304.7 572.5,305.8 573.0,306.8 573.5,307.8 574.0,308.9 574.5,309.9 575.0,311.0 575.5,312.0 576.0,313.0 576.5,314.1 577.0,315.1 577.5,316.2 578.0,317.2 578.5,316.2" fill="none" stroke="#800080" stroke-width="2.4" stroke-linejoin="round"/>
<rect x="577" y="313" width="3" height="3" fill="#800080"/>
<rect x="83" y="355" width="2" height="145" fill="#000"/>
<rect x="124" y="356" width="1" height="143" fill="#c0c0c0"/>
<rect x="164" y="356" width="1" height="143" fill="#000"/>
<rect x="205" y="356" width="1" height="143" fill="#c0c0c0"/>
<rect x="245" y="356" width="1" height="143" fill="#000"/>
<rect x="286" y="356" width="1" height="143" fill="#c0c0c0"/>
<rect x="326" y="356" width="1" height="143" fill="#000"/>
<rect x="367" y="356" width="1" height="143" fill="#c0c0c0"/>
<rect x="407" y="356" width="1" height="143" fill="#000"/>
<rect x="448" y="356" width="1" height="143" fill="#c0c0c0"/>
<rect x="488" y="356" width="1" height="143" fill="#000"/>
<rect x="529" y="356" width="1" height="143" fill="#c0c0c0"/>
<rect x="569" y="356" width="1" height="143" fill="#000"/>
<rect x="80" y="366" width="498.5" height="1" fill="#000"/>
<rect x="80" y="394" width="498.5" height="1" fill="#000"/>
<rect x="80" y="422" width="498.5" height="1" fill="#000"/>
<rect x="80" y="451" width="498.5" height="1" fill="#000"/>
<rect x="80" y="479" width="498.5" height="1" fill="#000"/>
<polyline points="83.0,377.0 131.8,377.0 131.8,457.0 133.1,457.0 133.1,478.0 180.9,478.0 180.9,467.4 182.2,467.4 182.2,375.5 183.4,375.5 183.4,377.0 230.9,377.0 230.9,457.0 232.2,457.0 232.2,478.0 280.0,478.0 280.0,467.4 281.3,467.4 281.3,375.5 282.5,375.5 282.5,377.0 330.0,377.0 330.0,457.0 331.3,457.0 331.3,478.0 379.1,478.0 379.1,467.4 380.4,467.4 380.4,375.5 381.6,375.5 381.6,377.0 429.1,377.0 429.1,457.0 430.4,457.0 430.4,478.0 478.2,478.0 478.2,467.4 479.5,467.4 479.5,375.5 480.7,375.5 480.7,377.0 528.2,377.0 528.2,457.0 529.5,457.0 529.5,478.0 577.3,478.0 577.3,467.4 577.6,467.4 577.6,375.5 577.6,375.5 577.6,377.0 577.6,377.0" fill="none" stroke="#0000ff" stroke-width="2" stroke-linejoin="miter"/>
<text x="79.5" y="39.4" text-anchor="end" textLength="21" lengthAdjust="spacingAndGlyphs">800</text>
<text x="79.5" y="60.4" text-anchor="end" textLength="21" lengthAdjust="spacingAndGlyphs">600</text>
<text x="79.5" y="81.4" text-anchor="end" textLength="21" lengthAdjust="spacingAndGlyphs">400</text>
<text x="79.5" y="102.4" text-anchor="end" textLength="21" lengthAdjust="spacingAndGlyphs">200</text>
<text x="79.5" y="123.4" text-anchor="end" textLength="7" lengthAdjust="spacingAndGlyphs">0</text>
<text x="79.5" y="144.4" text-anchor="end" textLength="24.5" lengthAdjust="spacingAndGlyphs">-200</text>
<text x="79.5" y="165.4" text-anchor="end" textLength="24.5" lengthAdjust="spacingAndGlyphs">-400</text>
<text x="79.5" y="215.4" text-anchor="end" textLength="21" lengthAdjust="spacingAndGlyphs">600</text>
<text x="79.5" y="233.4" text-anchor="end" textLength="21" lengthAdjust="spacingAndGlyphs">400</text>
<text x="79.5" y="252.4" text-anchor="end" textLength="21" lengthAdjust="spacingAndGlyphs">200</text>
<text x="79.5" y="271.4" text-anchor="end" textLength="10.5" lengthAdjust="spacingAndGlyphs">-0</text>
<text x="79.5" y="290.4" text-anchor="end" textLength="24.5" lengthAdjust="spacingAndGlyphs">-200</text>
<text x="79.5" y="309.4" text-anchor="end" textLength="24.5" lengthAdjust="spacingAndGlyphs">-400</text>
<text x="79.5" y="327.4" text-anchor="end" textLength="24.5" lengthAdjust="spacingAndGlyphs">-600</text>
<text x="79.5" y="370.4" text-anchor="end" textLength="21" lengthAdjust="spacingAndGlyphs">400</text>
<text x="79.5" y="398.4" text-anchor="end" textLength="21" lengthAdjust="spacingAndGlyphs">300</text>
<text x="79.5" y="426.4" text-anchor="end" textLength="21" lengthAdjust="spacingAndGlyphs">200</text>
<text x="79.5" y="455.4" text-anchor="end" textLength="21" lengthAdjust="spacingAndGlyphs">100</text>
<text x="79.5" y="483.4" text-anchor="end" textLength="10.5" lengthAdjust="spacingAndGlyphs">-0</text>
<text x="83.5" y="511.5" text-anchor="middle" textLength="7" lengthAdjust="spacingAndGlyphs">0</text>
<text x="164.5" y="511.5" text-anchor="middle" textLength="14" lengthAdjust="spacingAndGlyphs">10</text>
<text x="245.5" y="511.5" text-anchor="middle" textLength="14" lengthAdjust="spacingAndGlyphs">20</text>
<text x="326.5" y="511.5" text-anchor="middle" textLength="14" lengthAdjust="spacingAndGlyphs">30</text>
<text x="407.5" y="511.5" text-anchor="middle" textLength="14" lengthAdjust="spacingAndGlyphs">40</text>
<text x="488.5" y="511.5" text-anchor="middle" textLength="14" lengthAdjust="spacingAndGlyphs">50</text>
<text x="569.5" y="511.5" text-anchor="middle" textLength="14" lengthAdjust="spacingAndGlyphs">60</text>
<text x="83.5" y="543" textLength="66" lengthAdjust="spacingAndGlyphs">time/uSecs</text>
<text x="508.5" y="543" textLength="70" lengthAdjust="spacingAndGlyphs">10uSecs/div</text>
<text transform="translate(29,105.7) rotate(-90)" x="-9.75" y="0" textLength="19.5" lengthAdjust="spacingAndGlyphs">mA</text>
<text transform="translate(29,267) rotate(-90)" x="-9.75" y="0" textLength="19.5" lengthAdjust="spacingAndGlyphs">mA</text>
<text transform="translate(29,427.7) rotate(-90)" x="-43.0" y="0" textLength="86" lengthAdjust="spacingAndGlyphs">DVM VSW / V</text>
</svg>
</body></html>
